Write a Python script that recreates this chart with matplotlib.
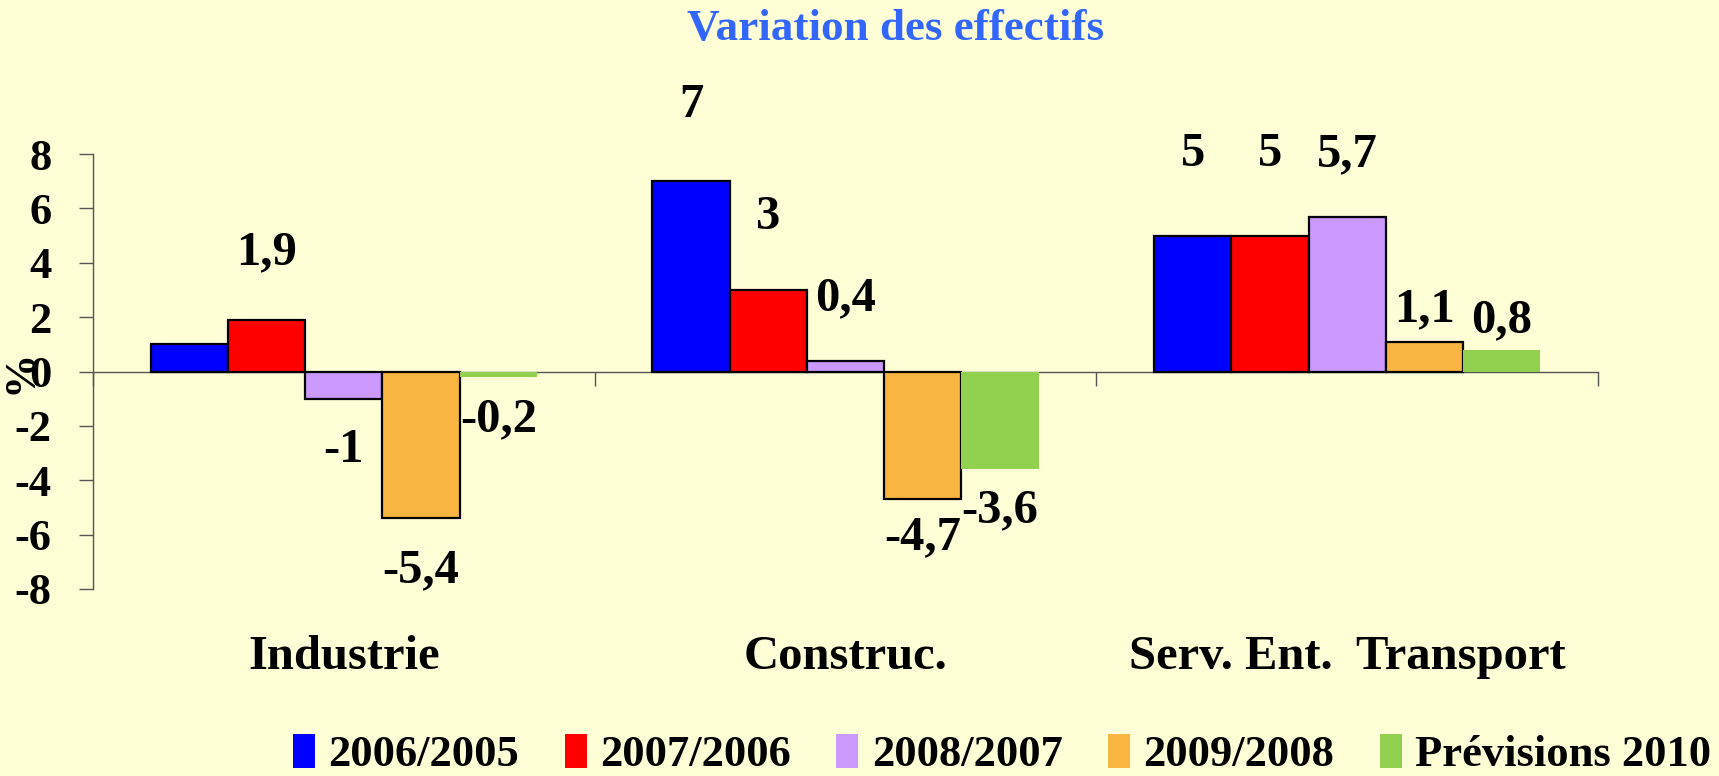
import numpy as np
import matplotlib
matplotlib.use("Agg")
import matplotlib.pyplot as plt
from matplotlib.patches import Patch

plt.rcParams["font.family"] = ["Liberation Serif", "DejaVu Serif"]
plt.rcParams["font.weight"] = "bold"

# data
categories = ["Industrie", "Construc.", "Serv. Ent.  Transport"]
series = ["2006/2005", "2007/2006", "2008/2007", "2009/2008", "Prévisions 2010"]
values = [
    [1.0, 7.0, 5.0],
    [1.9, 3.0, 5.0],
    [-1.0, 0.4, 5.7],
    [-5.4, -4.7, 1.1],
    [-0.2, -3.6, 0.8],
]
labels = [
    [None, "7", "5"],
    ["1,9", "3", "5"],
    ["-1", "0,4", "5,7"],
    ["-5,4", "-4,7", "1,1"],
    ["-0,2", "-3,6", "0,8"],
]
yticks = [-8, -6, -4, -2, 0, 2, 4, 6, 8]

# style
COLORS = ["#0000FF", "#FF0000", "#CC99FF", "#F8B541", "#92D050"]
EDGES = ["black", "black", "black", "black", "none"]
BG = "#FFFFD7"
# label offsets (data units) relative to the bar value
LABEL_DY = [
    [0, 2.8, 3.0],
    [2.5, 2.7, 3.0],
    [-1.9, 2.3, 2.3],
    [-1.9, -1.4, 1.2],
    [-1.55, -1.5, 1.1],
]

fig = plt.figure(figsize=(17.19, 7.76), dpi=100, facecolor=BG)
ax = fig.add_axes([0.0541, 0.241, 0.8755, 0.5605], facecolor=BG)

n = len(series)
group_w = 0.77
bw = group_w / n
x = np.arange(len(categories)) + 0.5
for i in range(n):
    xs = x - group_w / 2 + bw * (i + 0.5)
    ax.bar(xs, values[i], width=bw, color=COLORS[i], edgecolor=EDGES[i],
           linewidth=1.6, label=series[i], zorder=3)
    for j in range(len(categories)):
        if labels[i][j] is None:
            continue
        ax.text(xs[j], values[i][j] + LABEL_DY[i][j], labels[i][j],
                ha="center", va="center", fontsize=35, fontweight="bold")

ax.set_xlim(0, 3)
ax.set_ylim(-8, 8)
ax.set_yticks(yticks)
ax.set_yticklabels([str(t) for t in yticks])
ax.tick_params(axis="y", direction="out", length=10, width=1, color="#555555",
               labelsize=32, pad=20)

ax.spines["top"].set_visible(False)
ax.spines["right"].set_visible(False)
ax.spines["bottom"].set_position(("data", 0))
for s in ["left", "bottom"]:
    ax.spines[s].set_color("#555555")
    ax.spines[s].set_linewidth(1)

ax.set_xticks([0, 1, 2, 3])
ax.set_xticklabels([])
ax.tick_params(axis="x", which="major", direction="out", length=10, width=1,
               color="#555555")
ax.set_xticks(x, minor=True)
ax.set_xticklabels(categories, minor=True)
ax.tick_params(axis="x", which="minor", length=0, labelsize=35, pad=190)

ax.set_ylabel("%", fontsize=32, fontweight="bold", va="center")
ax.yaxis.set_label_coords(-0.0485, 0.5)

fig.text(0.521, 0.962, "Variation des effectifs", ha="center", va="center",
         fontsize=32.5, fontweight="bold", color="#3366FF")

handles = [Patch(facecolor=COLORS[i], edgecolor="none") for i in range(n)]
fig.legend(handles, series, loc="center", bbox_to_anchor=(0.583, 0.028), ncol=5,
           frameon=False, fontsize=32, handlelength=0.5, handleheight=0.8,
           handletextpad=0.3, columnspacing=1.02, borderaxespad=0)

fig.savefig("out.png", dpi=100, facecolor=BG)
